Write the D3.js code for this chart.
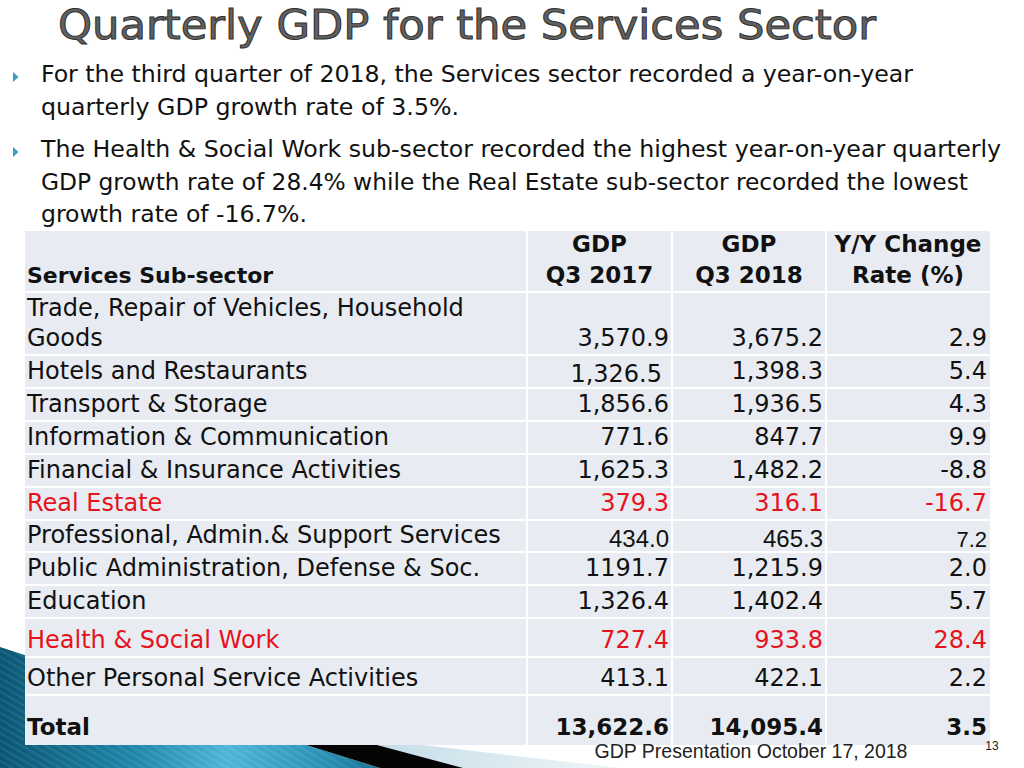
<!DOCTYPE html>
<html><head><meta charset="utf-8">
<script src="https://cdn.jsdelivr.net/npm/d3@7"></script>
<style>body{margin:0;background:#fff}svg{display:block}</style>
</head><body><svg id="c" width="1024" height="768"></svg>
<script>
// ---------------- data ----------------
const title = "Quarterly GDP for the Services Sector";
const bullets = [
  ["For the third quarter of 2018, the Services sector recorded a year-on-year",
   "quarterly GDP growth rate of 3.5%."],
  ["The Health & Social Work sub-sector recorded the highest year-on-year quarterly",
   "GDP growth rate of 28.4% while the Real Estate sub-sector recorded the lowest",
   "growth rate of -16.7%."]
];
const headers = ["Services Sub-sector", "GDP\nQ3 2017", "GDP\nQ3 2018", "Y/Y Change\nRate (%)"];
const subsectors = [
  "Trade, Repair of Vehicles, Household Goods",
  "Hotels and Restaurants",
  "Transport & Storage",
  "Information & Communication",
  "Financial & Insurance Activities",
  "Real Estate",
  "Professional, Admin.& Support Services",
  "Public Administration, Defense & Soc.",
  "Education",
  "Health & Social Work",
  "Other Personal Service Activities",
  "Total"
];
const gdpQ3_2017 = [3570.9, 1326.5, 1856.6, 771.6, 1625.3, 379.3, 434.0, 1191.7, 1326.4, 727.4, 413.1, 13622.6];
const gdpQ3_2018 = [3675.2, 1398.3, 1936.5, 847.7, 1482.2, 316.1, 465.3, 1215.9, 1402.4, 933.8, 422.1, 14095.4];
const yoyChange  = [2.9, 5.4, 4.3, 9.9, -8.8, -16.7, 7.2, 2.0, 5.7, 28.4, 2.2, 3.5];
const highlighted = ["Real Estate", "Health & Social Work"];
const footer = "GDP Presentation October 17, 2018";
const slideNumber = "13";

// ---------------- layout ----------------
const svg = d3.select("#c");
const colEdges = [25, 527, 672, 826, 990];
const tableTop = 231;
const rowHeights = [61, 63, 33, 33, 33, 33, 33, 32, 33, 33, 39, 38, 50];
const yEdges = Array.from(d3.cumsum([tableTop, ...rowHeights]));
const nRows = rowHeights.length;
const yScale = d3.scaleOrdinal().domain(d3.range(nRows + 1)).range(yEdges);
const xScale = d3.scaleOrdinal().domain(d3.range(5)).range(colEdges);

const TABLE_FONT = "'DejaVu Sans', Verdana, sans-serif";
const COND_FONT = "'DejaVu Sans Condensed', 'DejaVu Sans', sans-serif";
const RED = "#e5131c";
const fmt = d3.format(",.1f");
const fmtPlain = d3.format(".1f");

// ---------------- defs ----------------
const defs = svg.append("defs");
const tg = defs.append("linearGradient").attr("id", "teal").attr("gradientUnits", "userSpaceOnUse")
  .attr("x1", 0).attr("x2", 380).attr("y1", 0).attr("y2", 0);
tg.append("stop").attr("offset", "0").attr("stop-color", "#0a5673");
tg.append("stop").attr("offset", "0.35").attr("stop-color", "#1f86a9");
tg.append("stop").attr("offset", "0.6").attr("stop-color", "#4fb6d7");
tg.append("stop").attr("offset", "0.85").attr("stop-color", "#2a92b6");
tg.append("stop").attr("offset", "1").attr("stop-color", "#14708f");
const lg = defs.append("linearGradient").attr("id", "light").attr("gradientUnits", "userSpaceOnUse")
  .attr("x1", 380).attr("x2", 640).attr("y1", 0).attr("y2", 0);
lg.append("stop").attr("offset", "0").attr("stop-color", "#c6dde8");
lg.append("stop").attr("offset", "1").attr("stop-color", "#f3f8fa");
const pat = defs.append("pattern").attr("id", "stripes").attr("width", 6).attr("height", 6)
  .attr("patternUnits", "userSpaceOnUse").attr("patternTransform", "rotate(-60)");
pat.append("rect").attr("width", 2).attr("height", 6).attr("fill", "#ffffff").attr("opacity", 0.08);

// ---------------- background decoration ----------------
const line = d3.line();
const tealPts = [[0, 647], [162, 700], [380, 768], [0, 768]];
svg.append("path").attr("d", line(tealPts) + "Z").attr("fill", "url(#teal)");
svg.append("path").attr("d", line(tealPts) + "Z").attr("fill", "url(#stripes)");
svg.append("path").attr("d", line([[340, 740], [380, 740], [620, 768], [462, 768]]) + "Z").attr("fill", "url(#light)");
svg.append("path").attr("d", line([[162, 700], [208, 700], [463, 768], [380, 768]]) + "Z").attr("fill", "#050505");

// ---------------- title ----------------
svg.append("text").text(title)
  .attr("x", 58).attr("y", 39)
  .attr("font-family", COND_FONT).attr("font-size", 41)
  .attr("textLength", 818).attr("lengthAdjust", "spacingAndGlyphs")
  .attr("fill", "#606060").attr("stroke", "#303030").attr("stroke-width", 0.9);

// ---------------- bullets ----------------
const bulletTop = [82, 157];
const bulletLineH = 32.5;
const bulletWidths = [[872, 418], [960, 927, 266]];
bullets.forEach((lines, bi) => {
  const y0 = bulletTop[bi];
  svg.append("path")
    .attr("d", line([[13, y0 - 10], [18.5, y0 - 5], [13, y0]]) + "Z")
    .attr("fill", "#3a9dc4");
  lines.forEach((t, li) => {
    svg.append("text").text(t)
      .attr("x", 41).attr("y", y0 + li * bulletLineH)
      .attr("font-family", COND_FONT).attr("font-size", 23)
      .attr("textLength", bulletWidths[bi][li]).attr("lengthAdjust", "spacingAndGlyphs")
      .attr("fill", "#111");
  });
});

// ---------------- table ----------------
const tbl = svg.append("g");
tbl.append("rect")
  .attr("x", xScale(0)).attr("y", yScale(0))
  .attr("width", xScale(4) - xScale(0)).attr("height", yScale(nRows) - yScale(0))
  .attr("fill", "#ffffff");
for (let r = 0; r < nRows; r++) {
  for (let c = 0; c < 4; c++) {
    tbl.append("rect")
      .attr("x", xScale(c) + (c === 0 ? 0 : 1))
      .attr("y", yScale(r) + (r === 0 ? 0 : 1))
      .attr("width", xScale(c + 1) - xScale(c) - (c === 0 ? 1 : c === 3 ? 1 : 2))
      .attr("height", yScale(r + 1) - yScale(r) - (r === 0 || r === nRows - 1 ? 1 : 2))
      .attr("fill", "#e8ecf2");
  }
}

// header
headers.forEach((h, c) => {
  const lines = h.split("\n");
  const bottom = yScale(1) - 9;
  lines.forEach((t, i) => {
    const y = bottom - (lines.length - 1 - i) * 31;
    tbl.append("text").text(t)
      .attr("x", c === 0 ? xScale(0) + 2 : (xScale(c) + xScale(c + 1)) / 2)
      .attr("y", y)
      .attr("text-anchor", c === 0 ? "start" : "middle")
      .attr("font-family", TABLE_FONT).attr("font-size", c === 0 ? 22 : 23)
      .attr("font-weight", "bold").attr("fill", "#111");
  });
});

function wrapLines(text, width, size, weight) {
  const probe = svg.append("text").attr("font-family", TABLE_FONT).attr("font-size", size).attr("font-weight", weight);
  const words = text.split(" ");
  const out = [];
  let cur = "";
  words.forEach(w => {
    const test = cur ? cur + " " + w : w;
    probe.text(test);
    if (probe.node().getComputedTextLength() > width && cur) { out.push(cur); cur = w; }
    else cur = test;
  });
  out.push(cur);
  probe.remove();
  return out;
}

const cellTweaks = {
  "1-1": {dx: -7, dy: 3},
  "6-1": {font: "'Liberation Sans', Arial, sans-serif", dy: 4},
  "6-2": {font: "'Liberation Sans', Arial, sans-serif", dy: 4},
  "6-3": {font: "'Liberation Sans', Arial, sans-serif", dy: 4, size: 22}
};
const plainFormatCells = ["7-1"];

subsectors.forEach((name, i) => {
  const r = i + 1;
  const isTotal = name === "Total";
  const color = highlighted.includes(name) ? RED : "#111";
  const size = isTotal ? 23 : 24;
  const weight = isTotal ? "bold" : "normal";
  const bottom = yScale(r + 1) - (isTotal ? 10 : 9);
  const lines = wrapLines(name, 498, size, weight);
  lines.forEach((t, li) => {
    tbl.append("text").text(t)
      .attr("x", xScale(0) + 2)
      .attr("y", bottom - (lines.length - 1 - li) * 30.5)
      .attr("font-family", TABLE_FONT).attr("font-size", size)
      .attr("font-weight", weight).attr("fill", color);
  });
  const vals = [gdpQ3_2017[i], gdpQ3_2018[i], yoyChange[i]];
  vals.forEach((v, k) => {
    const c = k + 1;
    const key = i + "-" + c;
    const tw = cellTweaks[key] || {};
    const f = plainFormatCells.includes(key) ? fmtPlain : fmt;
    tbl.append("text").text(f(v).replace("\u2212", "-"))
      .attr("x", xScale(c + 1) - 3 + (tw.dx || 0))
      .attr("y", bottom + (tw.dy || 0))
      .attr("text-anchor", "end")
      .attr("font-family", tw.font || TABLE_FONT)
      .attr("font-size", tw.size || size)
      .attr("font-weight", weight).attr("fill", color);
  });
});

// ---------------- footer ----------------
svg.append("text").text(footer)
  .attr("x", 751).attr("y", 758).attr("text-anchor", "middle")
  .attr("font-family", "'Liberation Sans', Arial, sans-serif").attr("font-size", 19.5)
  .attr("fill", "#222");
svg.append("text").text(slideNumber)
  .attr("x", 992).attr("y", 750).attr("text-anchor", "middle")
  .attr("font-family", "'Liberation Sans', Arial, sans-serif").attr("font-size", 12)
  .attr("fill", "#222");
</script></body></html>
